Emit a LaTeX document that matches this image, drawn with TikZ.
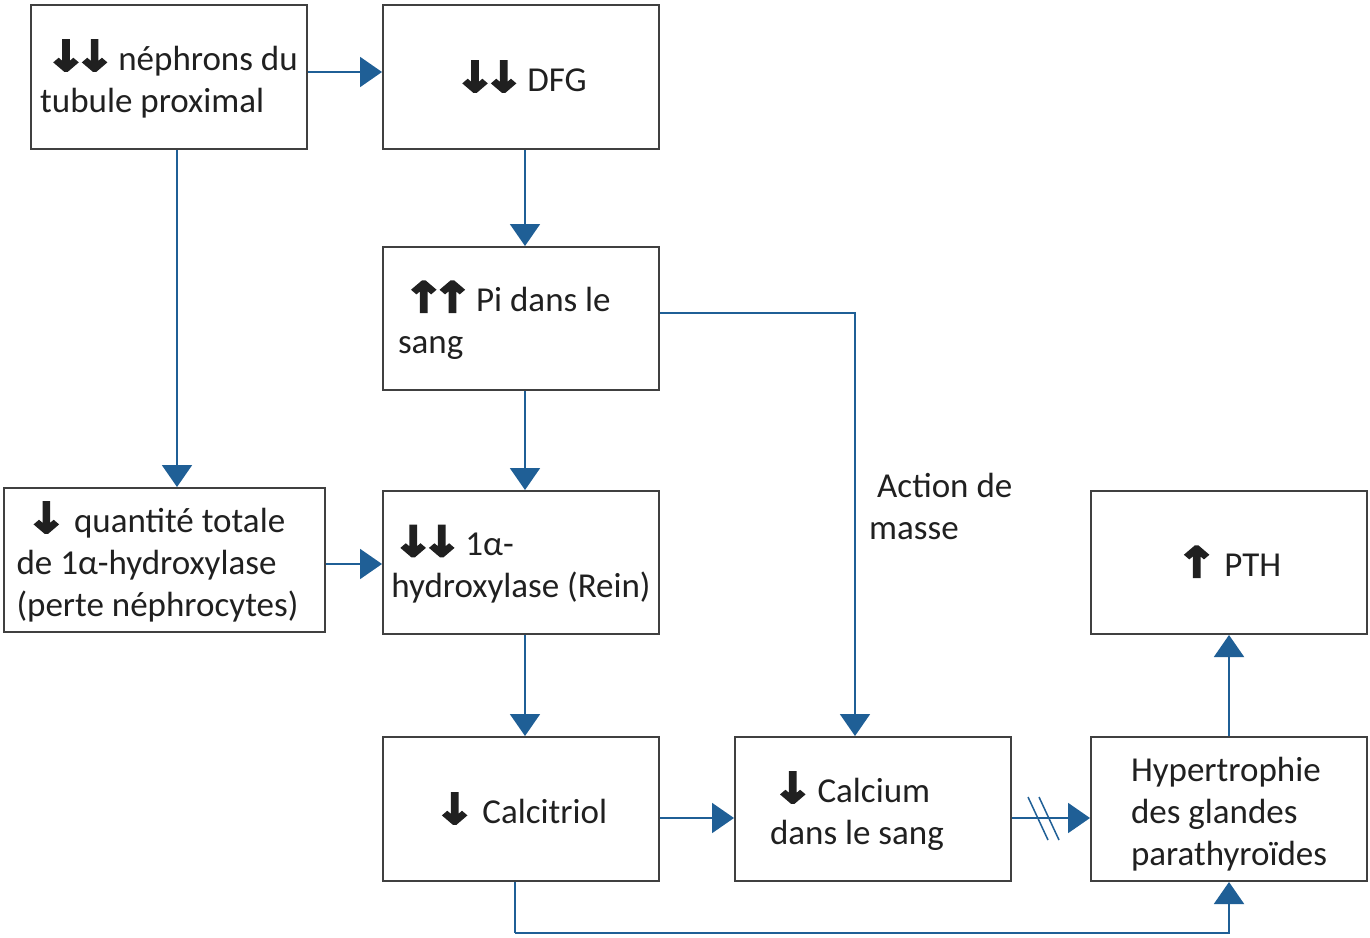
\documentclass[tikz,border=0pt]{standalone}
\usepackage{fontspec}
\usepackage{graphicx}
\setmainfont{Carlito}
\newfontfamily\arrfont{DejaVu Sans}[FakeBold=8]
\usetikzlibrary{arrows.meta,calc}
\newcommand{\dnar}{{\arrfont\scalebox{1.35}[1.15]{↓}}}
\newcommand{\upar}{{\arrfont\scalebox{1.35}[1.15]{↑}}}
\newcommand{\ddnar}{\dnar\kern-11pt\dnar\kern-4pt}
\newcommand{\uupar}{\upar\kern-11pt\upar\kern-4pt}
\newcommand{\topst}{\rule{0pt}{40pt}}
\newcommand{\botst}{\rule[-12pt]{0pt}{12pt}}
\definecolor{conncol}{HTML}{1F5F96}
\definecolor{boxcol}{HTML}{404040}
\definecolor{txtcol}{HTML}{202020}
\begin{document}
\begin{tikzpicture}[x=1pt,y=-1pt,
  box/.style={draw=boxcol, line width=2pt, minimum width=276pt, minimum height=144pt,
    inner sep=0pt, align=flush left, text=txtcol, font=\fontsize{35}{42}\selectfont},
  conn/.style={draw=conncol, line width=2pt, -{Triangle[length=22pt,width=30pt]}},
  plain/.style={draw=conncol, line width=2pt},
  lbl/.style={align=flush left, text=txtcol, font=\fontsize{35}{42}\selectfont, inner sep=0pt}]
\useasboundingbox (0,0) rectangle (1370,937);
\fill[white] (0,0) rectangle (1370,937);

\node[box] (A) at (169,77) {\topst\hspace*{6pt}\ddnar{} néphrons du\\tubule proximal\botst};
\node[box] (B) at (521,77) {\topst\ddnar{} DFG\botst};
\node[box, inner xsep=15pt, text width=246pt, minimum height=143pt] (C) at (521,318.5) {\topst\hspace*{6pt}\uupar{} Pi dans le\\sang\botst};
\node[box, minimum width=321pt] (D) at (164.5,560) {\topst\hspace*{10pt}\dnar{} quantité totale\\de 1α-hydroxylase\\(perte néphrocytes)\hspace*{14pt}\botst};
\node[box, minimum height=143pt] (E) at (521,562.5) {\topst\hspace*{2pt}\ddnar{} 1α-\\hydroxylase (Rein)\botst};
\node[box, minimum height=143pt] (F) at (1229,562.5) {\topst\upar{} PTH\botst};
\node[box] (G) at (521,809) {\topst\dnar{} Calcitriol\botst};
\node[box, inner xsep=35pt, text width=206pt] (H) at (873,809) {\topst\hspace*{3pt}\dnar\kern-3pt{} Calcium\\dans le sang\botst};
\node[box, inner xsep=40pt, text width=196pt] (I) at (1229,809) {\topst Hypertrophie\\des glandes\\parathyroïdes\botst};

\node[lbl, anchor=west] (M) at (869,506) {\hspace*{8pt}Action de\\masse};

\draw[conn] ([yshift=5pt]A.east) -- ([yshift=5pt]B.west);
\draw[conn] ([xshift=8pt]A.south) -- ([xshift=8pt]A.south |- D.north);
\draw[conn] ([xshift=4pt]B.south) -- ([xshift=4pt]C.north);
\draw[conn] ([xshift=4pt]C.south) -- ([xshift=4pt]E.north);
\draw[conn] ([yshift=6pt]C.east) -| ([xshift=-18pt]H.north);
\draw[conn] ([yshift=-4pt]D.east) -- ([yshift=-4pt]D.east -| E.west);
\draw[conn] ([xshift=4pt]E.south) -- ([xshift=4pt]G.north);
\draw[conn] ([yshift=-9pt]G.east) -- ([yshift=-9pt]H.west);
\draw[conn] ([yshift=-9pt]H.east) -- ([yshift=-9pt]I.west);
\draw[conn] (I.north) -- (F.south);
\coordinate (gb) at ($(G.south)+(-6,51)$);
\draw[plain] ([xshift=-6pt]G.south) -- (gb);
\draw[conn] (gb) -| (I.south);

% double slash on H -> I
\draw[conncol, line width=1.5pt] (1028,797) -- (1048,840);
\draw[conncol, line width=1.5pt] (1039,797) -- (1059,840);
\end{tikzpicture}
\end{document}
